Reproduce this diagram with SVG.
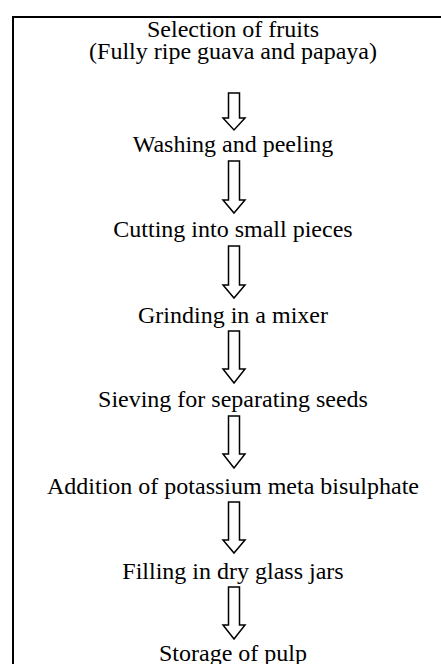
<svg xmlns="http://www.w3.org/2000/svg" width="441" height="664" viewBox="0 0 441 664">
<style>
text{font-family:"Liberation Serif","Times New Roman",serif;font-size:24px;fill:#000;text-anchor:middle}
.arrow{fill:#fff;stroke:#000;stroke-width:1.5;stroke-linejoin:miter}
.frame{fill:none;stroke:#000;stroke-width:2}
</style>
<rect width="441" height="664" fill="#fff"/>
<path class="frame" d="M13 664 V17 H441"/>
<g id="n1"><text x="233" y="37">Selection of fruits</text><text x="233" y="59">(Fully ripe guava and papaya)</text></g>
<g id="n2"><text x="233" y="152">Washing and peeling</text></g>
<g id="n3"><text x="233" y="237">Cutting into small pieces</text></g>
<g id="n4"><text x="233" y="323">Grinding in a mixer</text></g>
<g id="n5"><text x="233" y="407">Sieving for separating seeds</text></g>
<g id="n6"><text x="233" y="494">Addition of potassium meta bisulphate</text></g>
<g id="n7"><text x="233" y="579">Filling in dry glass jars</text></g>
<g id="n8"><text x="233" y="661">Storage of pulp</text></g>
<g id="connectors">
<path class="arrow" d="M228.5 93 V118 H223 L234 130 L245 118 H239.5 V93 Z"/>
<path class="arrow" d="M228.5 161 V200 H223 L234 213 L245 200 H239.5 V161 Z"/>
<path class="arrow" d="M228.5 246 V285 H223 L234 298 L245 285 H239.5 V246 Z"/>
<path class="arrow" d="M228.5 331 V369 H223 L234 383 L245 369 H239.5 V331 Z"/>
<path class="arrow" d="M228.5 416 V454 H223 L234 468 L245 454 H239.5 V416 Z"/>
<path class="arrow" d="M228.5 502 V540 H223 L234 553 L245 540 H239.5 V502 Z"/>
<path class="arrow" d="M228.5 587 V625 H223 L234 639 L245 625 H239.5 V587 Z"/>
</g>
</svg>
